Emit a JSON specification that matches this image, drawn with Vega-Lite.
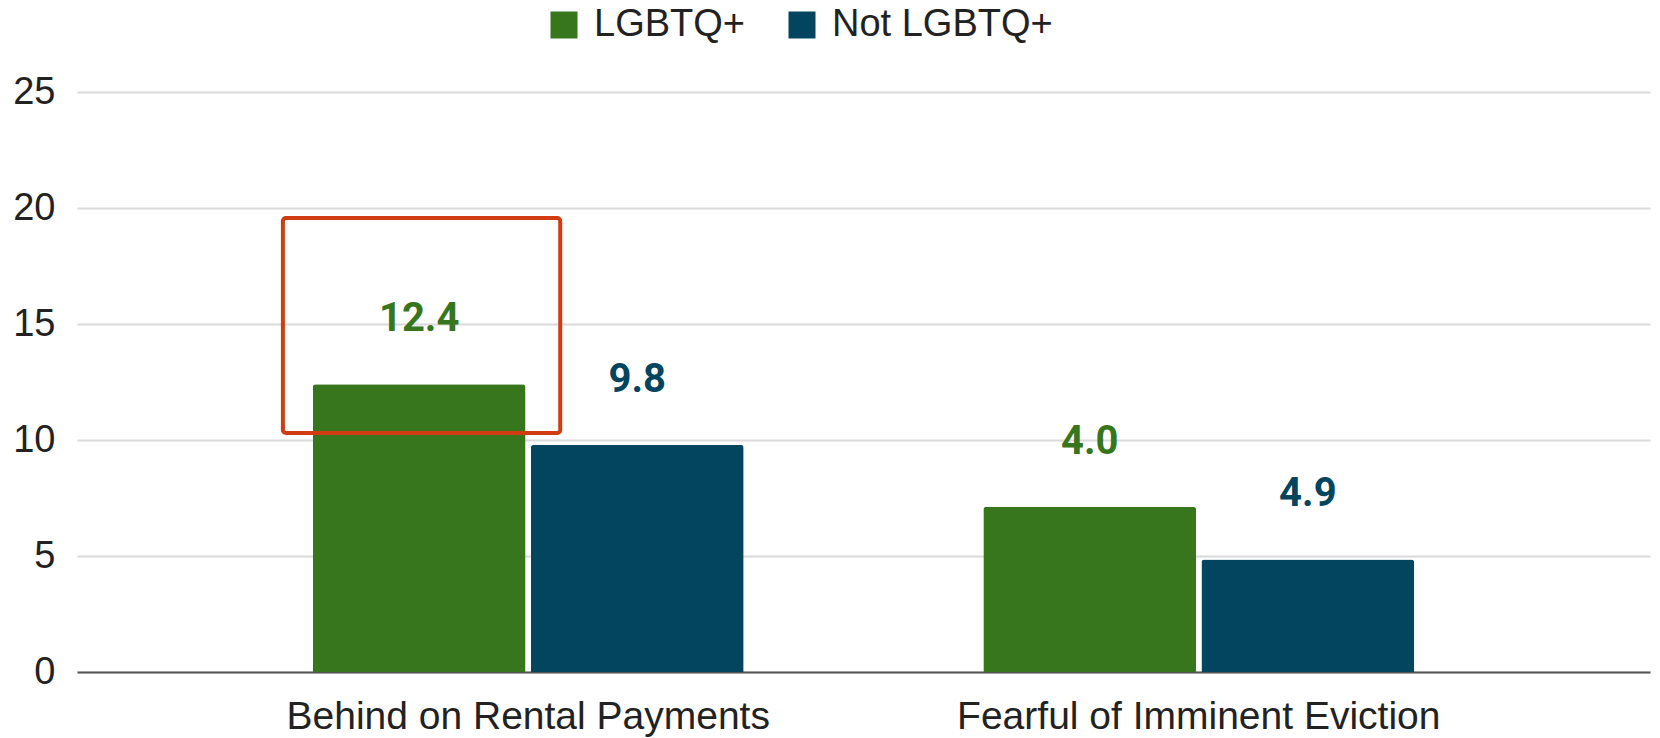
{
  "$schema": "https://vega.github.io/schema/vega-lite/v6.json",
  "autosize": "none",
  "width": 1573,
  "height": 580,
  "padding": {"left": 77, "top": 92, "right": 10, "bottom": 66},
  "background": "white",
  "config": {
    "view": {"stroke": null},
    "font": "Liberation Sans",
    "axis": {"labelFont": "Liberation Sans", "labelColor": "#222222", "titleFont": "Liberation Sans"},
    "legend": {"labelFont": "Liberation Sans"}
  },
  "datasets": {
    "bars": [
      {"category": "Behind on Rental Payments", "group": "LGBTQ+", "value": 12.4, "label": "12.4"},
      {"category": "Behind on Rental Payments", "group": "Not LGBTQ+", "value": 9.8, "label": "9.8"},
      {"category": "Fearful of Imminent Eviction", "group": "LGBTQ+", "value": 7.12, "label": "4.0"},
      {"category": "Fearful of Imminent Eviction", "group": "Not LGBTQ+", "value": 4.85, "label": "4.9"}
    ],
    "box": [
      {"x1": 0.1309, "x2": 0.3072, "y1": 10.3, "y2": 19.57}
    ]
  },
  "layer": [
    {
      "data": {"name": "bars"},
      "encoding": {
        "x": {
          "field": "category", "type": "nominal", "title": null,
          "scale": {"paddingInner": 0.3574, "paddingOuter": 0.3516},
          "axis": {"labelAngle": 0, "labelFontSize": 39, "labelPadding": 25, "labelLimit": 0, "ticks": false, "domain": true, "domainColor": "#555555", "domainWidth": 2, "grid": false}
        },
        "xOffset": {"field": "group", "type": "nominal", "scale": {"paddingInner": 0.0243, "paddingOuter": 0}},
        "y": {
          "field": "value", "type": "quantitative", "title": null,
          "scale": {"domain": [0, 25], "nice": false},
          "axis": {"values": [0, 5, 10, 15, 20, 25], "labelFontSize": 38, "labelPadding": 22, "ticks": false, "domain": false, "gridColor": "#dadada", "gridWidth": 2}
        },
        "color": {
          "field": "group", "type": "nominal",
          "scale": {"domain": ["LGBTQ+", "Not LGBTQ+"], "range": ["#38761d", "#03455f"]},
          "legend": {
            "title": null, "orient": "none", "direction": "horizontal",
            "legendX": 468, "legendY": -86,
            "symbolType": "square", "symbolSize": 729, "symbolStrokeWidth": 0,
            "labelFontSize": 38, "labelColor": "#222222", "labelOffset": 11, "columnPadding": 38, "labelLimit": 0
          }
        }
      },
      "layer": [
        {
          "mark": {"type": "bar", "cornerRadiusTopLeft": 3, "cornerRadiusTopRight": 3}
        },
        {
          "mark": {"type": "text", "font": "Roboto", "fontWeight": "bold", "fontSize": 40, "baseline": "middle", "dy": -65},
          "encoding": {
            "text": {"field": "label"}
          }
        }
      ]
    },
    {
      "data": {"name": "box"},
      "mark": {"type": "rect", "filled": false, "stroke": "#d23c12", "strokeWidth": 4, "cornerRadius": 3},
      "encoding": {
        "x": {"field": "x1", "type": "quantitative", "scale": {"domain": [0, 1], "nice": false}, "axis": null},
        "x2": {"field": "x2"},
        "y": {"field": "y1", "type": "quantitative", "scale": {"domain": [0, 25], "nice": false}},
        "y2": {"field": "y2"}
      }
    }
  ],
  "resolve": {"scale": {"x": "independent"}}
}
